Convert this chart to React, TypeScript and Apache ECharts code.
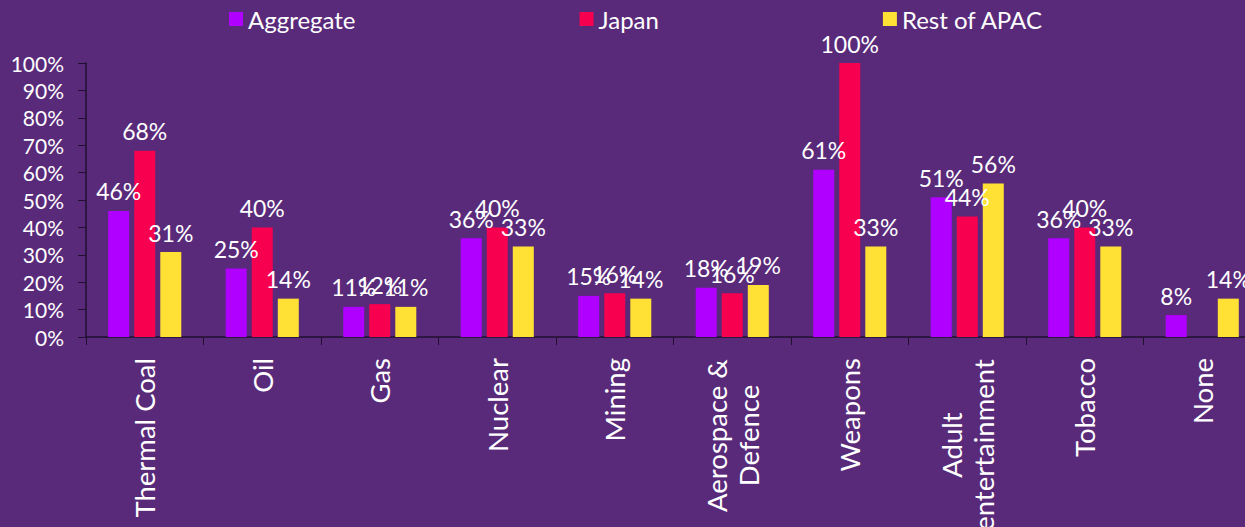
import React, { useEffect, useRef } from "react";
import * as echarts from "echarts";

const categories = [
  "Thermal Coal",
  "Oil",
  "Gas",
  "Nuclear",
  "Mining",
  "Aerospace &\nDefence",
  "Weapons",
  "Adult\nentertainment",
  "Tobacco",
  "None",
];
const aggregate = [46, 25, 11, 36, 15, 18, 61, 51, 36, 8];
const japan: (number | null)[] = [68, 40, 12, 40, 16, 16, 100, 44, 40, null];
const restOfApac = [31, 14, 11, 33, 14, 19, 33, 56, 33, 14];
const seriesNames = ["Aggregate", "Japan", "Rest of APAC"];
const colors = ["#B000FF", "#F6004F", "#FFE135"];

const CAT_FONT = 27.5;
const FONT = "Lato";

function measure(text: string, size: number) {
  const c = document.createElement("canvas").getContext("2d");
  if (!c) return text.length * size * 0.55;
  c.font = `${size}px ${FONT}`;
  return c.measureText(text).width;
}

export default function App() {
  const ref = useRef<HTMLDivElement>(null);
  useEffect(() => {
    if (!ref.current) return;
    const chart = echarts.init(ref.current, null, { renderer: "svg" });

    const rich: Record<string, any> = {};
    const styleKeyFor: Record<string, string> = {};
    categories.forEach((c, i) => {
      if (c.includes("\n")) {
        const key = "m" + i;
        const w = Math.max(...c.split("\n").map((l) => measure(l, CAT_FONT)));
        rich[key] = {
          width: Math.ceil(w) + 2,
          align: "center",
          fontSize: CAT_FONT,
          fontFamily: FONT,
          color: "#ffffff",
          lineHeight: 32,
        };
        styleKeyFor[c] = key;
      }
    });

    const mkSeries = (name: string, data: (number | null)[], color: string) => ({
      name,
      type: "bar",
      data,
      barWidth: 21,
      barGap: "24%",
      itemStyle: { color },
      label: {
        show: true,
        position: "top",
        distance: 8,
        formatter: (p: any) => (p.value == null ? "" : `${p.value}%`),
        color: "#ffffff",
        fontFamily: FONT,
        fontSize: 23,
      },
    });

    chart.setOption({
      animation: false,
      backgroundColor: "#592A7A",
      legend: {
        left: 224,
        top: 2,
        itemGap: 224,
        itemWidth: 14,
        itemHeight: 14,
        icon: "rect",
        data: seriesNames,
        textStyle: { color: "#ffffff", fontFamily: FONT, fontSize: 24, padding: [0, 0, 0, 0] },
      },
      grid: {
        left: 86,
        top: 63,
        width: 1175,
        height: 274,
        containLabel: false,
        outerBoundsMode: "none",
      },
      xAxis: {
        type: "category",
        data: categories,
        axisLine: { lineStyle: { color: "#1f1030", width: 1.5 } },
        axisTick: { show: true, length: 8, lineStyle: { color: "#1f1030" } },
        axisLabel: {
          rotate: 90,
          margin: 21,
          interval: 0,
          color: "#ffffff",
          fontFamily: FONT,
          fontSize: CAT_FONT,
          lineHeight: 32,
          formatter: (v: string) => {
            const k = styleKeyFor[v];
            if (!k) return v;
            return v
              .split("\n")
              .map((l) => `{${k}|${l}}`)
              .join("\n");
          },
          rich,
        },
      },
      yAxis: {
        type: "value",
        min: 0,
        max: 100,
        interval: 10,
        splitLine: { show: false },
        axisLine: { show: true, lineStyle: { color: "#1f1030", width: 1.5 } },
        axisTick: { show: true, length: 8, lineStyle: { color: "#1f1030" } },
        axisLabel: {
          formatter: "{value}%",
          color: "#ffffff",
          fontFamily: FONT,
          fontSize: 21,
          margin: 22,
        },
      },
      series: [
        mkSeries(seriesNames[0], aggregate, colors[0]),
        mkSeries(seriesNames[1], japan, colors[1]),
        mkSeries(seriesNames[2], restOfApac, colors[2]),
      ],
    });
    return () => chart.dispose();
  }, []);

  return (
    <div
      ref={ref}
      style={{ position: "fixed", left: 0, top: 0, width: 1245, height: 527 }}
    />
  );
}
